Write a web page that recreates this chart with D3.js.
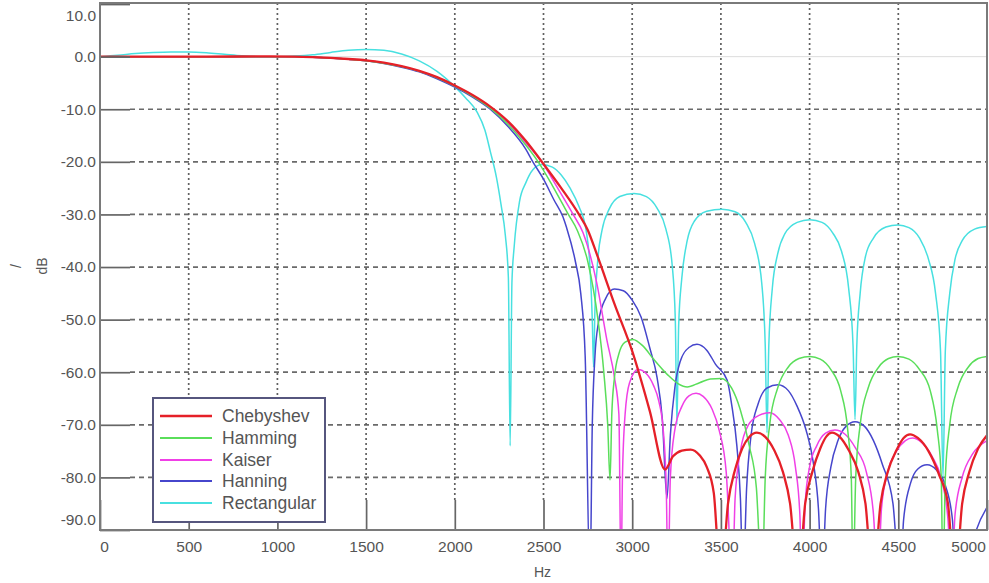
<!DOCTYPE html>
<html>
<head>
<meta charset="utf-8">
<script src="https://cdnjs.cloudflare.com/ajax/libs/d3/7.8.5/d3.min.js"></script>
<style>
  body { margin: 0; background: #fff; }
  text { font-family: "Liberation Sans", Arial, sans-serif; fill: #555; }
</style>
</head>
<body>
<div id="chart"></div>
<script>

// Data (Hz, dB)
var xTicks = [0, 500, 1000, 1500, 2000, 2500, 3000, 3500, 4000, 4500, 5000];
var yTicks = [10, 0, -10, -20, -30, -40, -50, -60, -70, -80, -90];

var seriesNames = ["Chebyshev", "Hamming", "Kaiser", "Hanning", "Rectangular"];

var chebHz = [0, 300, 600, 900, 1100, 1200, 1300, 1400, 1500, 1600, 1700, 1800, 1900, 2000, 2100, 2200, 2300, 2400, 2500, 2600, 2700, 2750, 2800, 2900, 3000, 3100, 3185, 3230, 3280, 3330, 3380, 3420, 3460, 3500, 3540, 3580, 3620, 3660, 3703, 3750, 3800, 3850, 3890, 3935, 3975, 4015, 4060, 4095, 4126, 4170, 4220, 4275, 4315, 4357, 4400, 4440, 4490, 4530, 4566, 4610, 4670, 4730, 4780, 4820, 4860, 4900, 4950, 5000];
var chebDb = [0, 0, 0, 0.05, 0, -0.1, -0.25, -0.45, -0.7, -1.15, -1.8, -2.7, -3.9, -5.5, -7.3, -9.5, -12.3, -16, -20.4, -25, -30, -33, -37.5, -47, -56, -67.5, -78.5, -76, -74.9, -74.7, -75.8, -78, -83, -100, -85, -78.5, -74.5, -72.3, -71.5, -72.3, -74.8, -79, -85, -100, -85, -79, -74.5, -72.2, -71.5, -72.3, -74.8, -79, -85, -100, -85, -79, -74.8, -72.5, -71.8, -72.5, -75, -79.5, -85, -100, -85, -79, -74.5, -72];

var hammHz = [0, 300, 600, 900, 1100, 1200, 1300, 1400, 1500, 1600, 1700, 1800, 1900, 2000, 2100, 2200, 2300, 2400, 2470, 2550, 2640, 2690, 2750, 2807, 2840, 2862, 2875, 2885, 2900, 2925, 2960, 3004, 3060, 3120, 3200, 3260, 3310, 3380, 3440, 3500, 3560, 3608, 3660, 3700, 3732, 3750, 3775, 3820, 3880, 3940, 4002, 4060, 4120, 4175, 4215, 4235, 4245, 4260, 4285, 4330, 4390, 4445, 4498, 4560, 4620, 4680, 4720, 4742, 4752, 4765, 4790, 4835, 4895, 4950, 5000];
var hammDb = [0, 0, 0, 0, 0, -0.1, -0.25, -0.5, -0.8, -1.25, -1.9, -2.8, -4, -5.6, -7.5, -9.8, -12.9, -16.8, -20, -24.5, -30, -33, -39, -50, -60, -70, -80.5, -68, -61, -56.5, -54.3, -53.8, -55, -57.5, -60.5, -62.2, -62.8, -62, -61.3, -61.2, -63, -67, -74, -82, -100, -80, -70, -63, -59, -57.4, -57, -57.5, -59.5, -63.5, -71, -80, -100, -80, -70, -63, -59, -57.4, -57, -57.5, -59.5, -63.5, -71, -80, -100, -80, -70, -63, -59, -57.4, -57];

var kaisHz = [0, 300, 600, 900, 1100, 1200, 1300, 1400, 1500, 1600, 1700, 1800, 1900, 2000, 2100, 2200, 2300, 2400, 2490, 2580, 2667, 2723, 2800, 2858, 2900, 2925, 2937, 2945, 2960, 2985, 3033, 3080, 3120, 3150, 3175, 3192, 3202, 3215, 3240, 3280, 3320, 3360, 3400, 3450, 3490, 3530, 3565, 3580, 3610, 3655, 3715, 3777, 3830, 3880, 3920, 3945, 3957, 3975, 4000, 4040, 4090, 4143, 4200, 4260, 4320, 4360, 4385, 4405, 4440, 4490, 4540, 4580, 4630, 4690, 4740, 4780, 4800, 4820, 4860, 4920, 5000];
var kaisDb = [0, 0, 0, 0, 0, -0.1, -0.25, -0.5, -0.75, -1.2, -1.85, -2.75, -3.95, -5.55, -7.4, -9.7, -12.6, -16.4, -20, -25, -30, -33.5, -43, -54, -61, -68, -100, -80, -68, -62, -59.5, -60.3, -62.5, -65.5, -71, -82, -100, -80, -71, -66.5, -64.5, -64, -64.6, -67, -71, -79, -100, -84, -75, -70, -68.2, -67.7, -69, -72, -78, -87, -100, -85, -78, -74, -71.6, -71, -71.8, -74.5, -79, -87, -100, -86, -79, -75, -73, -72.5, -73.3, -76, -80, -88, -100, -87, -80, -75.5, -73];

var hannHz = [0, 300, 600, 900, 1100, 1200, 1300, 1400, 1500, 1600, 1700, 1800, 1900, 2000, 2100, 2200, 2300, 2400, 2440, 2500, 2560, 2610, 2630, 2680, 2710, 2735, 2762, 2775, 2790, 2810, 2850, 2900, 2950, 3000, 3050, 3100, 3140, 3170, 3196, 3215, 3240, 3270, 3320, 3365, 3420, 3470, 3535, 3560, 3590, 3610, 3625, 3645, 3670, 3710, 3760, 3822, 3880, 3930, 3980, 4020, 4050, 4070, 4090, 4120, 4160, 4205, 4256, 4310, 4360, 4410, 4470, 4510, 4530, 4570, 4610, 4662, 4715, 4765, 4805, 4835, 4900, 4940, 5000];
var hannDb = [0, 0, 0, 0, 0, -0.1, -0.25, -0.5, -0.8, -1.3, -2, -2.9, -4.2, -5.8, -7.7, -10, -13.3, -17.6, -20, -23.3, -27.3, -30.5, -32.5, -39, -45, -57, -100, -70, -57, -50.5, -46, -44.2, -44.5, -46.3, -49.5, -55.5, -61, -69, -84, -72, -63, -58, -55.3, -54.7, -55.8, -58.5, -61.5, -66, -74, -84, -100, -82, -72, -66, -63, -62.4, -63.5, -66.5, -71, -77, -86, -100, -86, -78, -73, -70.3, -69.4, -70.3, -73, -77.5, -85, -100, -88, -81, -78.4, -77.6, -78.6, -81.5, -88, -105, -95, -90, -85.7];

var rectHz = [0, 100, 200, 300, 400, 500, 600, 700, 800, 900, 1000, 1100, 1200, 1300, 1400, 1500, 1600, 1700, 1800, 1900, 2000, 2060, 2125, 2170, 2200, 2235, 2260, 2285, 2302, 2312, 2322, 2335, 2365, 2400, 2440, 2490, 2550, 2600, 2650, 2700, 2740, 2762, 2775, 2782, 2790, 2805, 2830, 2870, 2930, 3010, 3080, 3140, 3190, 3225, 3243, 3252, 3262, 3280, 3310, 3350, 3420, 3506, 3580, 3640, 3690, 3730, 3750, 3760, 3770, 3790, 3820, 3860, 3930, 4002, 4070, 4130, 4180, 4220, 4245, 4256, 4266, 4285, 4315, 4360, 4430, 4498, 4560, 4620, 4670, 4710, 4738, 4752, 4765, 4790, 4820, 4860, 4930, 5000];
var rectDb = [0, 0.25, 0.6, 0.8, 0.9, 0.9, 0.75, 0.45, 0.15, 0, 0, 0.1, 0.35, 0.8, 1.2, 1.35, 1.2, 0.5, -0.8, -2.8, -5.7, -7.8, -10.5, -14, -18, -23, -28, -34, -42, -74, -43, -36, -27.5, -24, -21.5, -20.5, -21, -22.5, -25, -28.5, -33, -40, -50, -59, -48, -39, -33, -29, -26.6, -26, -26.6, -28.8, -32.8, -39.5, -50, -70, -51, -42, -35, -31.3, -29.4, -29, -29.5, -31.5, -35.5, -43, -55, -71.5, -55, -44, -37.5, -33.7, -31.5, -31, -31.5, -33.5, -37, -44, -55, -69, -55, -45, -38, -34.5, -32.4, -32, -32.5, -34.5, -38.5, -45, -56, -80, -56, -45, -38.5, -35, -32.8, -32.3];

// svg params
var svgWidth = 989;
var svgHeight = 583;

var margin = { top: 3, right: 2, bottom: 53, left: 100 };

var width = svgWidth - margin.left - margin.right;
var height = svgHeight - margin.top - margin.bottom;

var colors = {
  Chebyshev: "#e52028",
  Hamming: "#5ade5a",
  Kaiser: "#f040e6",
  Hanning: "#4646cc",
  Rectangular: "#48e0e0"
};
var widths = { Chebyshev: 2.3, Hamming: 1.5, Kaiser: 1.5, Hanning: 1.5, Rectangular: 1.5 };

function zip(hz, db) {
  return hz.map((f, i) => ({ hz: f, db: db[i] }));
}

var series = {
  Chebyshev: zip(chebHz, chebDb),
  Hamming: zip(hammHz, hammDb),
  Kaiser: zip(kaisHz, kaisDb),
  Hanning: zip(hannHz, hannDb),
  Rectangular: zip(rectHz, rectDb)
};

var svg = d3.select("#chart").append("svg")
  .attr("width", svgWidth)
  .attr("height", svgHeight);

var chartGroup = svg.append("g")
  .attr("transform", `translate(${margin.left}, ${margin.top})`);

// scales
var xScale = d3.scaleLinear().domain([0, 5000]).range([0, width]);
var yScale = d3.scaleLinear().domain([-90, 10.2]).range([height, 0]);

// grid
chartGroup.append("line")
  .attr("x1", 0).attr("x2", width)
  .attr("y1", yScale(0)).attr("y2", yScale(0))
  .attr("stroke", "#dcdcdc").attr("stroke-width", 1);

chartGroup.append("g").selectAll("line")
  .data(yTicks.filter(d => d < 0 && d > -90))
  .enter().append("line")
  .attr("x1", 30).attr("x2", width)
  .attr("y1", d => yScale(d)).attr("y2", d => yScale(d))
  .attr("stroke", "#6a6a6a").attr("stroke-width", 1.7)
  .attr("stroke-dasharray", "5,4");

chartGroup.append("g").selectAll("line")
  .data(xTicks.filter(d => d > 0 && d < 5000))
  .enter().append("line")
  .attr("x1", d => xScale(d)).attr("x2", d => xScale(d))
  .attr("y1", 0).attr("y2", height - 30)
  .attr("stroke", "#606060").attr("stroke-width", 1.7)
  .attr("stroke-dasharray", "2,3");

// curves
chartGroup.append("clipPath").attr("id", "plotClip")
  .append("rect").attr("width", width).attr("height", height);

var line = d3.line()
  .x(d => xScale(d.hz))
  .y(d => yScale(d.db))
  .curve(d3.curveMonotoneX);

var drawOrder = ["Rectangular", "Hanning", "Kaiser", "Hamming", "Chebyshev"];
chartGroup.append("g").attr("clip-path", "url(#plotClip)")
  .selectAll("path")
  .data(drawOrder)
  .enter().append("path")
  .attr("d", d => line(series[d]))
  .attr("fill", "none")
  .attr("stroke", d => colors[d])
  .attr("stroke-width", d => widths[d])
  .attr("stroke-linejoin", "round");

// axes
var leftAxis = d3.axisLeft(yScale)
  .tickValues(yTicks)
  .tickSize(-30)
  .tickPadding(4)
  .tickFormat(d => d.toFixed(1));

var bottomAxis = d3.axisBottom(xScale)
  .tickValues(xTicks)
  .tickSize(-30)
  .tickPadding(11)
  .tickFormat(d => d);

var yG = chartGroup.append("g").call(leftAxis);
var xG = chartGroup.append("g").attr("transform", `translate(0, ${height})`).call(bottomAxis);

[yG, xG].forEach(function(g) {
  g.select(".domain").remove();
  g.selectAll(".tick line").attr("stroke", "#666").attr("stroke-width", 1.7);
  g.selectAll(".tick text")
    .style("font-family", "'Liberation Sans', Arial, sans-serif")
    .style("font-size", "15.5px")
    .attr("fill", "#555");
});

// edge labels pushed inside like the original
yG.selectAll(".tick text").attr("y", d => d === 10 ? 11 : d === -90 ? -10 : 0);
xG.selectAll(".tick text").attr("x", d => d === 0 ? 4 : d === 5000 ? -19 : 0);

// frame
chartGroup.append("rect")
  .attr("width", width).attr("height", height)
  .attr("fill", "none")
  .attr("stroke", "#7a7a7a").attr("stroke-width", 2);

// axis labels
svg.append("text")
  .attr("x", margin.left + width / 2 - 1)
  .attr("y", 577)
  .attr("text-anchor", "middle")
  .style("font-size", "14px")
  .text("Hz");

svg.append("text")
  .attr("transform", "translate(47, 266) rotate(-90)")
  .attr("text-anchor", "middle")
  .style("font-size", "14px")
  .text("dB");

svg.append("text")
  .attr("transform", "translate(21, 266) rotate(-90)")
  .attr("text-anchor", "middle")
  .style("font-size", "14px")
  .text("/");

// legend
var legend = svg.append("g").attr("transform", "translate(153, 398)");
legend.append("rect")
  .attr("width", 172).attr("height", 124)
  .attr("fill", "#fff")
  .attr("stroke", "#56567e").attr("stroke-width", 2);

var items = legend.selectAll(".item")
  .data(seriesNames)
  .enter().append("g")
  .attr("transform", (d, i) => `translate(0, ${[18, 40, 62, 83, 105][i]})`);

items.append("line")
  .attr("x1", 7).attr("x2", 59)
  .attr("stroke", d => colors[d])
  .attr("stroke-width", d => d === "Chebyshev" ? 2.6 : 2);

items.append("text")
  .attr("x", 69)
  .attr("dy", "0.36em")
  .style("font-size", "17.5px")
  .attr("fill", "#444")
  .text(d => d);

</script>
</body>
</html>
